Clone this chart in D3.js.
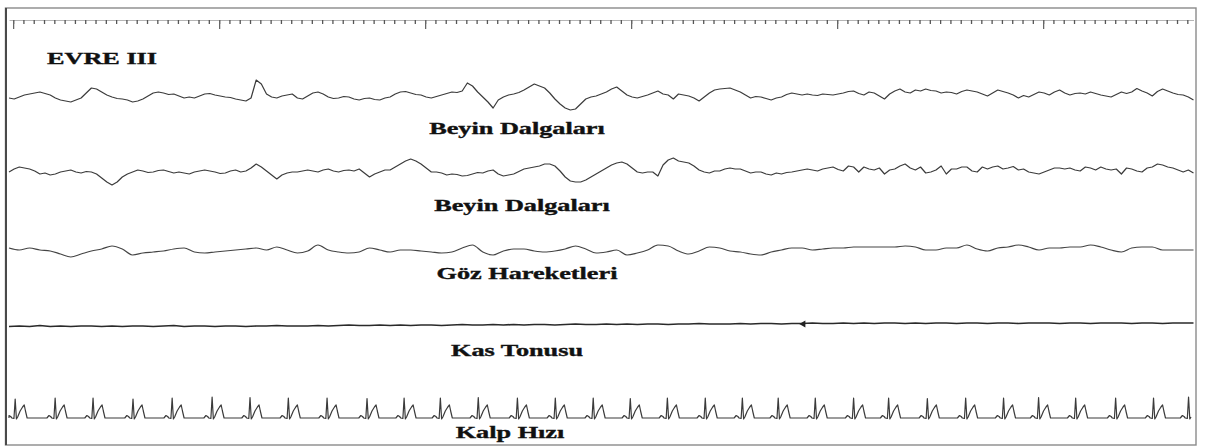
<!DOCTYPE html>
<html>
<head>
<meta charset="utf-8">
<script src="https://cdn.jsdelivr.net/npm/d3@7"></script>
<style>
  html, body { margin: 0; padding: 0; background: #fff; }
  svg { display: block; }
  .lbl { font-family: "Liberation Serif", "Times New Roman", serif; font-weight: bold; font-size: 16px;
         fill: #111; stroke: #111; stroke-width: 0.35px; }
</style>
</head>
<body>
<svg id="chart" width="1205" height="447"></svg>
<script>
// ---- recording data (time in seconds, amplitudes in µV) ----
const stageTitle = "EVRE III";
const channelNames = ["Beyin Dalgaları", "Beyin Dalgaları", "Göz Hareketleri", "Kas Tonusu", "Kalp Hızı"];

const eegStep = 0.125; // seconds between EEG samples
const slowStep = 0.25; // seconds between EOG / EMG samples

// EEG channel 1
const eeg1 = [-4,-6,-2,2,4,6,8,5,2,-4,-8,-10,-12,-8,-4,6,16,14,8,2,-2,-5,-6,-8,-12,-10,-6,0,6,8,
  6,3,4,0,-4,-2,-4,0,4,5,2,0,-2,-3,-6,-8,-10,-4,32,24,4,-2,-4,0,2,4,-4,-6,0,6,
  8,4,-2,-5,-4,-1,-2,-6,-8,-5,-4,-7,-8,-4,-2,4,8,9,6,3,2,-2,-4,-1,2,5,8,7,10,26,
  20,8,-2,-12,-24,-8,-2,2,4,7,12,18,24,20,16,6,-6,-16,-24,-28,-26,-16,-6,-2,0,4,8,14,18,10,
  2,-2,-4,-1,2,6,10,4,2,-6,4,2,0,-4,-10,-2,6,12,14,15,16,12,8,2,-4,-1,-2,-5,-8,-4,
  -2,3,6,4,2,4,2,1,4,3,2,4,6,9,10,5,2,8,6,0,-6,4,10,14,8,6,12,10,14,11,
  10,6,8,7,4,9,12,10,8,4,0,6,12,9,6,2,-4,1,-2,3,8,6,2,8,12,6,2,5,6,4,
  8,5,2,0,-2,3,8,5,8,15,10,6,0,9,14,10,6,3,2,-2,-8];

// EEG channel 2
const eeg2 = [-2,4,8,6,4,0,-6,-4,-8,-6,-2,0,2,-2,-4,-1,-2,-6,-14,-22,-28,-22,-12,-6,-2,2,0,-3,-2,1,
  2,-1,-4,-2,-4,-6,-2,0,2,0,-2,-5,-4,0,2,-2,0,6,14,8,0,-8,-16,-8,-4,-2,-2,0,2,0,
  -2,2,4,0,-2,1,2,0,4,-4,-12,-6,-2,2,2,8,14,20,24,20,14,6,-2,-2,-4,-8,-6,-7,-10,-9,
  -6,-3,-4,0,2,-6,-10,-8,-6,-1,4,6,8,10,14,14,10,0,-12,-20,-22,-22,-18,-12,-6,0,6,12,16,18,
  14,6,-2,-4,-2,-2,-10,12,22,26,20,18,16,10,2,-2,-4,0,0,4,6,4,4,0,-4,-2,-2,-6,-8,-4,
  -6,-3,-2,0,2,4,2,0,4,6,8,3,0,10,8,-2,8,4,2,6,-6,2,4,10,14,6,2,8,-4,-2,
  2,10,-6,4,4,8,8,0,-2,8,4,8,10,4,6,9,2,4,-2,-4,-6,-2,2,6,6,4,6,2,0,8,
  6,2,8,4,2,4,-6,6,4,0,-2,6,8,14,12,8,6,2,-2,2,-4];

// Eye movements (EOG)
const eog = [2,-2,2,-2,-4,-10,-16,-10,-4,0,6,0,-12,-8,-6,-4,0,2,-6,-8,-6,-4,-2,0,2,-2,4,-2,-8,-4,
  8,-2,-6,-8,-6,2,-2,-6,-2,-2,-4,-6,-8,-6,2,8,-6,-12,-4,0,0,-4,-6,-4,0,6,0,-8,-6,-2,
  -12,-8,-2,8,6,-4,-10,-4,4,2,-4,-6,-10,-12,-6,-2,2,2,-2,0,2,2,4,4,4,4,4,6,4,-2,
  -2,2,2,8,0,-4,2,4,8,4,-2,2,2,4,4,8,4,-2,-6,2,4,4,-2,-2,-2,-2];

// Muscle tone (EMG)
const emg = [-3,-2,-3,-1,-3,-2,-3,-2,-2,-3,-2,-3,-2,-2,-3,-2,-1,-3,-2,-2,-3,-2,-2,-3,-2,-2,-1,-2,-2,-2,
  -1,-2,-1,0,-1,-1,0,-1,0,-1,0,0,-1,0,1,0,0,1,0,1,0,1,1,0,1,2,1,1,2,1,2,1,2,2,1,2,2,3,2,2,
  2,3,2,3,3,2,3,3,4,3,3,4,3,4,3,4,4,3,4,3,4,4,3,4,4,3,4,4,3,4,4,4,3,4,4,3,4,4,4,3,4,4,3,4,4,4];
const emgArtifacts = [19.28];

// Heart: R-peak times, R amplitudes and the shape of one beat around its R peak
const ecgBeats = [0.15,1.12,2.04,3.01,3.96,4.93,5.85,6.78,7.72,8.69,9.59,10.47,11.39,12.34,13.26,14.18,
  15.08,15.98,16.90,17.80,18.67,19.57,20.50,21.35,22.29,23.22,24.14,24.99,25.89,26.86,27.78,28.63];
const ecgRAmp = [38,40,40,38,40,42,41,40,40,39,40,40,41,40,40,40,39,40,40,40,40,40,40,40,39,40,40,41,40,40,40,42];
const beatShapeT = [-0.2,-0.15,-0.11,-0.08,-0.03,0,0.03,0.06,0.12,0.18,0.22,0.25,0.29,0.32];
const beatShapeV = [0,5,3,0,-1,null,-2,2,14,22,26,14,0,0];

// Time ruler
const rulerStart = 0.1, rulerMinor = 0.25, rulerMajor = 5, recordEnd = 28.75;

// ---- drawing ----
const svg = d3.select("#chart");
const x = d3.scaleLinear().domain([0, recordEnd]).range([9, 1193.5]);

// frame
svg.append("rect").attr("x", 5.5).attr("y", 8).attr("width", 1190.5).attr("height", 437)
  .attr("fill", "none").attr("stroke", "#8a8a8a").attr("stroke-width", 1.4);
svg.append("line").attr("x1", 6).attr("x2", 6).attr("y1", 8).attr("y2", 445)
  .attr("stroke", "#4a4a4a").attr("stroke-width", 2);

// ruler
const minorTicks = d3.range(rulerStart, recordEnd - 0.05, rulerMinor);
const majorTicks = d3.range(rulerStart, recordEnd, rulerMajor);
const rulerMinorAxis = d3.axisBottom(x).tickValues(minorTicks).tickSize(4).tickSizeOuter(0).tickFormat("");
const rulerMajorAxis = d3.axisBottom(x).tickValues(majorTicks).tickSize(9).tickSizeOuter(0).tickFormat("");
const rg1 = svg.append("g").attr("transform", "translate(0,20)").call(rulerMinorAxis);
rg1.select(".domain").attr("stroke", "#b5b5b5").attr("stroke-width", 1);
rg1.selectAll(".tick line").attr("stroke", "#555").attr("stroke-width", 1.3);
const rg2 = svg.append("g").attr("transform", "translate(0,20)").call(rulerMajorAxis);
rg2.select(".domain").remove();
rg2.selectAll(".tick line").attr("stroke", "#666").attr("stroke-width", 1.3);

// stage title
svg.append("text").attr("class", "lbl")
  .attr("transform", "translate(47,64) scale(1.64,1)").text(stageTitle);

// channel layout
const baselines = [96, 171, 249, 325, 418];
const labelPos = [[517, 134], [522, 211], [527, 279], [517, 356], [510, 438]];
const yFor = b => d3.scaleLinear().domain([-40, 40]).range([b + 20, b - 20]);

function sampled(values, step) {
  return values.map((v, i) => ({ t: i * step, v }));
}

const channels = [
  { data: sampled(eeg1, eegStep), curve: d3.curveLinear, w: 1.2, c: "#3b3b3b" },
  { data: sampled(eeg2, eegStep), curve: d3.curveLinear, w: 1.2, c: "#3b3b3b" },
  { data: sampled(eog, slowStep), curve: d3.curveMonotoneX, w: 1.2, c: "#444" },
  { data: sampled(emg, slowStep), curve: d3.curveLinear, w: 1.7, c: "#2a2a2a" },
  { data: null, curve: d3.curveLinear, w: 1.2, c: "#3b3b3b" }
];

// heart channel assembled from beats
const ecg = [{ t: 0, v: 0 }];
ecgBeats.forEach((rt, k) => {
  beatShapeT.forEach((dt, j) => {
    const t = rt + dt;
    if (t < 0 || t > 28.7) return;
    ecg.push({ t, v: beatShapeV[j] === null ? ecgRAmp[k] : beatShapeV[j] });
  });
});
channels[4].data = ecg;

channels.forEach((ch, i) => {
  const y = yFor(baselines[i]);
  const line = d3.line().x(d => x(d.t)).y(d => y(d.v)).curve(ch.curve);
  svg.append("path").datum(ch.data).attr("d", line)
    .attr("fill", "none").attr("stroke", ch.c).attr("stroke-width", ch.w)
    .attr("stroke-linejoin", "round");
  svg.append("text").attr("class", "lbl").attr("text-anchor", "middle")
    .attr("transform", `translate(${labelPos[i][0]},${labelPos[i][1]}) scale(1.64,1)`)
    .text(channelNames[i]);
});

// artifact marker on muscle channel
const yEmg = yFor(baselines[3]);
svg.selectAll(".artifact").data(emgArtifacts).enter().append("path")
  .attr("class", "artifact")
  .attr("d", d3.symbol().type(d3.symbolTriangle).size(22))
  .attr("transform", d => `translate(${x(d)},${yEmg(2)}) rotate(-90)`)
  .attr("fill", "#222");
</script>
</body>
</html>
